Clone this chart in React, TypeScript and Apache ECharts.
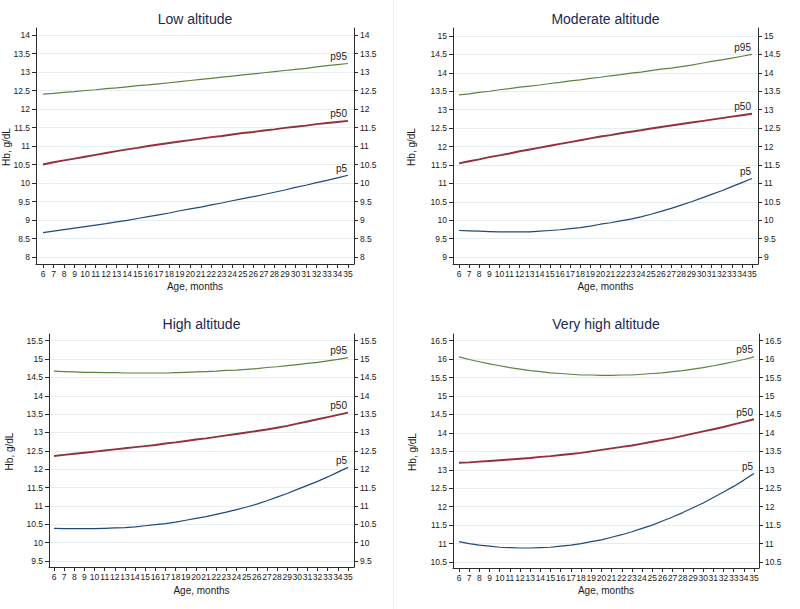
import { useEffect, useRef } from 'react';
import * as echarts from 'echarts';

// ---------- data ----------
const ages = [6, 7, 8, 9, 10, 11, 12, 13, 14, 15, 16, 17, 18, 19, 20, 21, 22, 23, 24, 25, 26, 27, 28, 29, 30, 31, 32, 33, 34, 35];

const panelTitles = ['Low altitude', 'Moderate altitude', 'High altitude', 'Very high altitude'];
const percentileNames = ['p5', 'p50', 'p95'];
const xAxisTitle = 'Age, months';
const yAxisTitle = 'Hb, g/dL';

const lowP95 = [12.40, 12.42, 12.45, 12.47, 12.50, 12.52, 12.55, 12.57, 12.60, 12.63, 12.65, 12.68, 12.71, 12.74, 12.77, 12.80, 12.83, 12.86, 12.89, 12.92, 12.95, 12.98, 13.01, 13.04, 13.07, 13.10, 13.14, 13.17, 13.20, 13.23];
const lowP50 = [10.50, 10.56, 10.61, 10.66, 10.71, 10.76, 10.81, 10.86, 10.91, 10.95, 11.00, 11.04, 11.08, 11.12, 11.16, 11.20, 11.24, 11.27, 11.31, 11.35, 11.38, 11.42, 11.45, 11.49, 11.52, 11.55, 11.59, 11.62, 11.65, 11.68];
const lowP5 = [8.66, 8.70, 8.74, 8.78, 8.82, 8.86, 8.90, 8.95, 8.99, 9.04, 9.09, 9.14, 9.19, 9.25, 9.30, 9.35, 9.41, 9.46, 9.52, 9.58, 9.63, 9.69, 9.75, 9.81, 9.88, 9.94, 10.01, 10.07, 10.14, 10.21];

const modP95 = [13.40, 13.43, 13.47, 13.50, 13.54, 13.57, 13.61, 13.64, 13.67, 13.71, 13.74, 13.78, 13.81, 13.85, 13.88, 13.92, 13.95, 13.99, 14.02, 14.06, 14.10, 14.13, 14.17, 14.21, 14.26, 14.31, 14.35, 14.40, 14.45, 14.50];
const modP50 = [11.54, 11.60, 11.65, 11.71, 11.76, 11.81, 11.87, 11.92, 11.97, 12.02, 12.07, 12.12, 12.17, 12.22, 12.27, 12.31, 12.36, 12.40, 12.44, 12.49, 12.53, 12.57, 12.61, 12.65, 12.69, 12.73, 12.77, 12.81, 12.85, 12.89];
const modP5 = [9.72, 9.71, 9.70, 9.69, 9.68, 9.68, 9.68, 9.68, 9.70, 9.72, 9.74, 9.77, 9.80, 9.84, 9.89, 9.93, 9.98, 10.03, 10.09, 10.16, 10.24, 10.32, 10.41, 10.50, 10.60, 10.70, 10.80, 10.91, 11.02, 11.13];

const highP95 = [14.67, 14.66, 14.65, 14.64, 14.64, 14.63, 14.63, 14.62, 14.62, 14.62, 14.62, 14.62, 14.63, 14.64, 14.65, 14.66, 14.67, 14.69, 14.70, 14.72, 14.74, 14.77, 14.79, 14.82, 14.85, 14.88, 14.91, 14.95, 14.99, 15.04];
const highP50 = [12.36, 12.39, 12.42, 12.45, 12.48, 12.51, 12.54, 12.57, 12.60, 12.63, 12.66, 12.70, 12.73, 12.77, 12.81, 12.84, 12.88, 12.92, 12.96, 13.00, 13.04, 13.08, 13.13, 13.18, 13.24, 13.30, 13.36, 13.42, 13.48, 13.54];
const highP5 = [10.39, 10.38, 10.38, 10.38, 10.38, 10.39, 10.40, 10.41, 10.43, 10.46, 10.49, 10.52, 10.56, 10.61, 10.66, 10.71, 10.77, 10.83, 10.90, 10.97, 11.05, 11.14, 11.24, 11.34, 11.45, 11.56, 11.67, 11.79, 11.92, 12.05];

const vhighP95 = [16.06, 15.99, 15.93, 15.87, 15.82, 15.77, 15.73, 15.69, 15.66, 15.63, 15.61, 15.59, 15.57, 15.57, 15.56, 15.56, 15.57, 15.57, 15.59, 15.61, 15.63, 15.66, 15.69, 15.73, 15.77, 15.82, 15.87, 15.93, 15.99, 16.06];
const vhighP50 = [13.19, 13.20, 13.22, 13.24, 13.26, 13.28, 13.30, 13.32, 13.35, 13.37, 13.40, 13.43, 13.46, 13.50, 13.54, 13.58, 13.62, 13.66, 13.71, 13.76, 13.81, 13.86, 13.92, 13.98, 14.04, 14.10, 14.16, 14.23, 14.30, 14.37];
const vhighP5 = [11.05, 11.00, 10.96, 10.93, 10.90, 10.89, 10.88, 10.88, 10.89, 10.90, 10.93, 10.96, 11.00, 11.05, 11.10, 11.17, 11.24, 11.32, 11.41, 11.50, 11.61, 11.72, 11.84, 11.97, 12.10, 12.25, 12.40, 12.55, 12.72, 12.90];

const lowTicks = [8, 8.5, 9, 9.5, 10, 10.5, 11, 11.5, 12, 12.5, 13, 13.5, 14];
const modTicks = [9, 9.5, 10, 10.5, 11, 11.5, 12, 12.5, 13, 13.5, 14, 14.5, 15];
const highTicks = [9.5, 10, 10.5, 11, 11.5, 12, 12.5, 13, 13.5, 14, 14.5, 15, 15.5];
const vhighTicks = [10.5, 11, 11.5, 12, 12.5, 13, 13.5, 14, 14.5, 15, 15.5, 16, 16.5];

// ---------- layout & style ----------
const FONT = '"Liberation Sans", Arial, Helvetica, sans-serif';
const lineColors = ['#1f4a78', '#92313a', '#5f8240'];
const lineWidths = [1.2, 1.9, 1.2];

const layouts = [
  { left: 36, right: 354, top: 28, bottom: 264, x0: 43, x1: 348, y0: 257, y1: 35, titleY: 19, nameY: 286, hbX: 6 },
  { left: 453, right: 758, top: 28, bottom: 264, x0: 459, x1: 752, y0: 257, y1: 36, titleY: 19, nameY: 286, hbX: 411 },
  { left: 49, right: 354, top: 334, bottom: 567, x0: 54, x1: 348, y0: 561, y1: 340.7, titleY: 324, nameY: 590, hbX: 9 },
  { left: 453, right: 759, top: 334, bottom: 568, x0: 459, x1: 754, y0: 562, y1: 340.7, titleY: 324, nameY: 590, hbX: 412 },
];

export default function App() {
  const ref = useRef<HTMLDivElement>(null);

  useEffect(() => {
    if (!ref.current) return;
    const chart = echarts.init(ref.current, undefined, { renderer: 'svg' });

    const panels = [
      { title: panelTitles[0], ticks: lowTicks, lines: [lowP5, lowP50, lowP95] },
      { title: panelTitles[1], ticks: modTicks, lines: [modP5, modP50, modP95] },
      { title: panelTitles[2], ticks: highTicks, lines: [highP5, highP50, highP95] },
      { title: panelTitles[3], ticks: vhighTicks, lines: [vhighP5, vhighP50, vhighP95] },
    ];

    const grids: any[] = [];
    const xAxes: any[] = [];
    const yAxes: any[] = [];
    const series: any[] = [];

    const axisColor = '#2b2b2b';
    const labelColor = '#1a1a1a';

    panels.forEach((p, i) => {
      const L = layouts[i];
      grids.push({
        left: L.left,
        top: L.top,
        width: L.right - L.left,
        height: L.bottom - L.top,
        containLabel: false,
        outerBoundsMode: 'none',
      });

      const xa = ages[0];
      const xb = ages[ages.length - 1];
      const xs = (L.x1 - L.x0) / (xb - xa);
      const xMin = xa - (L.x0 - L.left) / xs;
      const xMax = xb + (L.right - L.x1) / xs;

      const ya = p.ticks[0];
      const yb = p.ticks[p.ticks.length - 1];
      const ys = (L.y0 - L.y1) / (yb - ya);
      const yMin = ya - (L.bottom - L.y0) / ys;
      const yMax = yb + (L.y1 - L.top) / ys;

      xAxes.push({
        type: 'value',
        gridIndex: i,
        min: xMin,
        max: xMax,
        axisLine: { show: true, onZero: false, lineStyle: { color: axisColor, width: 1 } },
        axisTick: { show: true, length: 4, customValues: ages, lineStyle: { color: axisColor, width: 1 } },
        axisLabel: { show: true, customValues: ages, fontSize: 8.5, color: labelColor, margin: 5, fontFamily: FONT },
        splitLine: { show: false },
      });

      const yCommon = {
        type: 'value',
        gridIndex: i,
        min: yMin,
        max: yMax,
        axisLine: { show: true, onZero: false, lineStyle: { color: axisColor, width: 1 } },
        axisTick: { show: true, length: 4, customValues: p.ticks, lineStyle: { color: axisColor, width: 1 } },
        axisLabel: {
          show: true,
          customValues: p.ticks,
          fontSize: 8.5,
          color: labelColor,
          margin: 6,
          fontFamily: FONT,
          formatter: (v: number) => String(v),
        },
      };
      yAxes.push({ ...yCommon, position: 'left', splitLine: { show: true, lineStyle: { color: '#e7eef2', width: 1 } } });
      yAxes.push({ ...yCommon, position: 'right', splitLine: { show: false } });

      p.lines.forEach((vals, k) => {
        series.push({
          type: 'line',
          name: `${p.title} ${percentileNames[k]}`,
          xAxisIndex: i,
          yAxisIndex: i * 2,
          data: ages.map((a, j) => [a, vals[j]]),
          symbol: 'none',
          showSymbol: false,
          smooth: false,
          lineStyle: { color: lineColors[k], width: lineWidths[k] },
          itemStyle: { color: lineColors[k] },
          z: 3,
        });
      });
    });

    chart.setOption({
      animation: false,
      backgroundColor: '#ffffff',
      grid: grids,
      xAxis: xAxes,
      yAxis: yAxes,
      series,
    });

    const elements: any[] = [];
    elements.push({
      type: 'line',
      shape: { x1: 393.5, y1: 0, x2: 393.5, y2: 609 },
      style: { stroke: '#eeeeee', lineWidth: 1 },
      silent: true,
    });
    panels.forEach((p, i) => {
      const L = layouts[i];
      const cx = (L.left + L.right) / 2;
      elements.push({
        type: 'text',
        x: cx,
        y: L.titleY,
        style: { text: p.title, fontSize: 14, fontFamily: FONT, fill: '#1c2852', align: 'center', verticalAlign: 'middle' },
      });
      elements.push({
        type: 'text',
        x: cx,
        y: L.nameY,
        style: { text: xAxisTitle, fontSize: 10, fontFamily: FONT, fill: '#1a1a1a', align: 'center', verticalAlign: 'middle' },
      });
      elements.push({
        type: 'text',
        x: L.hbX,
        y: (L.top + L.bottom) / 2 + 1,
        rotation: Math.PI / 2,
        style: { text: yAxisTitle, fontSize: 10, fontFamily: FONT, fill: '#1a1a1a', align: 'center', verticalAlign: 'middle' },
      });
      p.lines.forEach((vals, k) => {
        const last = ages.length - 1;
        const pt = chart.convertToPixel({ seriesIndex: i * 3 + k }, [ages[last], vals[last]]) as number[];
        if (pt) {
          elements.push({
            type: 'text',
            x: pt[0] - 1,
            y: pt[1] - 2,
            style: { text: percentileNames[k], fontSize: 10, fontFamily: FONT, fill: '#1a1a1a', align: 'right', verticalAlign: 'bottom' },
          });
        }
      });
    });

    chart.setOption({ graphic: { elements } });

    return () => chart.dispose();
  }, []);

  return <div ref={ref} style={{ position: 'absolute', left: 0, top: 0, width: 800, height: 609 }} />;
}
